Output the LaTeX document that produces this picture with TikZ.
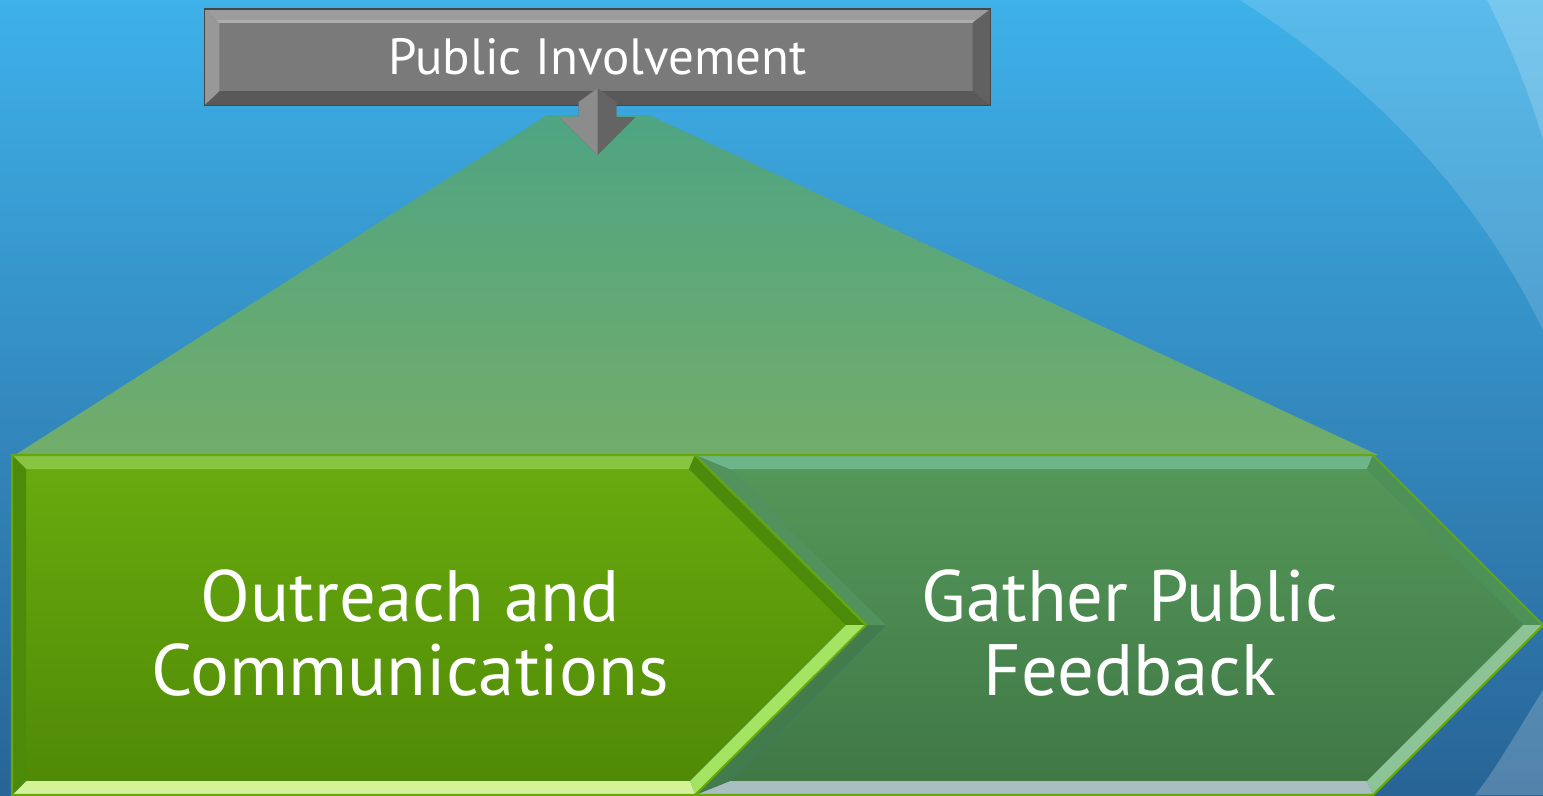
\documentclass[tikz,border=0pt]{standalone}
\usepackage{fontspec}
\setmainfont{PT Sans}
\usetikzlibrary{positioning,calc}

\definecolor{skytop}{RGB}{62,177,233}
\definecolor{skybot}{RGB}{40,100,150}
\definecolor{traptop}{RGB}{78,164,131}
\definecolor{trapbot}{RGB}{114,173,106}
\definecolor{limetop}{RGB}{104,170,14}
\definecolor{limebot}{RGB}{80,138,6}
\definecolor{limehi}{RGB}{134,196,66}
\definecolor{limedark}{RGB}{76,138,10}
\definecolor{limelow}{RGB}{164,228,98}
\definecolor{limefoot}{RGB}{212,242,152}
\definecolor{limeline}{RGB}{104,166,16}
\definecolor{leaftop}{RGB}{84,151,88}
\definecolor{leafbot}{RGB}{64,120,70}
\definecolor{leafhi}{RGB}{108,182,138}
\definecolor{leafnotch}{RGB}{82,146,92}
\definecolor{leafshade}{RGB}{66,124,76}
\definecolor{leafedge}{RGB}{78,145,86}
\definecolor{leaflow}{RGB}{140,196,151}
\definecolor{leaffoot}{RGB}{168,190,192}
\definecolor{boxface}{RGB}{122,122,122}
\definecolor{boxline}{RGB}{70,70,70}
\definecolor{arrowlight}{RGB}{140,140,140}
\definecolor{arrowdark}{RGB}{100,100,100}

\begin{document}
\begin{tikzpicture}[x=0.1mm, y=-0.1mm,
  top box/.style={fill=boxface, draw=boxline, line width=0.4pt, minimum width=78.5mm,
    minimum height=9.5mm, inner sep=0pt, text=white, font=\fontsize{14.5}{17}\selectfont},
  chev text/.style={text=white, align=center, font=\fontsize{20.7}{21.3}\selectfont}]

\useasboundingbox (0,0) rectangle (1543,795);
\shade[top color=skytop, bottom color=skybot] (0,0) rectangle (1543,795);
\fill[white, opacity=0.14] (1240,0) .. controls (1380,90) and (1480,200) .. (1543,330) -- (1543,0) -- cycle;
\fill[white, opacity=0.18] (1487,0) .. controls (1510,45) and (1530,95) .. (1543,140) -- (1543,0) -- cycle;
\fill[white, opacity=0.2] (1543,690) .. controls (1515,735) and (1495,770) .. (1475,795) -- (1543,795) -- cycle;

\shade[top color=traptop, bottom color=trapbot] (15,455) -- (547,115) -- (649,115) -- (1378,455) -- cycle;

% second chevron
\shade[top color=leaftop, bottom color=leafbot] (729,469) -- (1367,469) -- (1523,625) -- (1367,781) -- (730,781) -- (886,625) -- cycle;
\fill[leafhi] (695,455) -- (1373,455) -- (1367,469) -- (729,469) -- cycle;
\fill[leafedge] (1373,455) -- (1543,625) -- (1523,625) -- (1367,469) -- cycle;
\fill[leaflow] (1543,625) -- (1373,795) -- (1367,781) -- (1523,625) -- cycle;
\fill[leaffoot] (1373,795) -- (695,795) -- (730,781) -- (1367,781) -- cycle;
\fill[leafshade] (695,795) -- (866,625) -- (886,625) -- (730,781) -- cycle;
\fill[leafnotch] (866,625) -- (695,455) -- (729,469) -- (886,625) -- cycle;
\draw[limeline, line width=0.6pt] (695,455) -- (1373,455) -- (1543,625) -- (1373,795) -- (695,795);

% first chevron
\shade[top color=limetop, bottom color=limebot] (26,469) -- (689,469) -- (846,625) -- (690,781) -- (26,781) -- cycle;
\fill[limehi] (12,455) -- (695,455) -- (689,469) -- (26,469) -- cycle;
\fill[limedark] (695,455) -- (866,625) -- (846,625) -- (689,469) -- cycle;
\fill[limelow] (866,625) -- (695,795) -- (690,781) -- (846,625) -- cycle;
\fill[limefoot] (695,795) -- (12,795) -- (26,781) -- (690,781) -- cycle;
\fill[limedark] (12,795) -- (12,455) -- (26,469) -- (26,781) -- cycle;
\draw[limeline, line width=0.6pt] (12,455) -- (695,455) -- (866,625) -- (695,795) -- (12,795) -- cycle;

\node[chev text] (outreach) at (410,633) {Outreach and\\Communications};
\node[chev text] (gather) at (1130,633) {Gather Public\\Feedback};

\node[top box] (invol) at (597.5,57) {Public Involvement};
\fill[gray!78] (invol.north west) -- (invol.north east) -- ($(invol.north east)+(-18,14)$) -- ($(invol.north west)+(15,14)$) -- cycle;
\fill[white, opacity=0.18] ($(invol.north west)+(12,11)$) -- ($(invol.north east)+(-15,11)$) -- ($(invol.north east)+(-18,14)$) -- ($(invol.north west)+(15,14)$) -- cycle;
\fill[gray!45!black!80] (invol.north east) -- (invol.south east) -- ($(invol.south east)+(-18,-14)$) -- ($(invol.north east)+(-18,14)$) -- cycle;
\fill[gray!70!black] (invol.south east) -- (invol.south west) -- ($(invol.south west)+(15,-14)$) -- ($(invol.south east)+(-18,-14)$) -- cycle;
\fill[gray!85!black!70] (invol.south west) -- (invol.north west) -- ($(invol.north west)+(15,14)$) -- ($(invol.south west)+(15,-14)$) -- cycle;
\draw[boxline, line width=0.4pt] (invol.north west) rectangle (invol.south east);

% arrow into the chevrons
\fill[arrowdark] ($(invol.south)+(0,-17)$) -- ($(invol.south)+(19,-3)$) -- ($(invol.south)+(19,12)$) -- ($(invol.south)+(38,12)$) -- ($(invol.south)+(0,50)$) -- ($(invol.south)+(-38,12)$) -- ($(invol.south)+(-19,12)$) -- ($(invol.south)+(-19,-3)$) -- cycle;
\fill[arrowlight] ($(invol.south)+(0,-17)$) -- ($(invol.south)+(-19,-3)$) -- ($(invol.south)+(-19,12)$) -- ($(invol.south)+(-38,12)$) -- ($(invol.south)+(0,50)$) -- cycle;

\end{tikzpicture}
\end{document}
